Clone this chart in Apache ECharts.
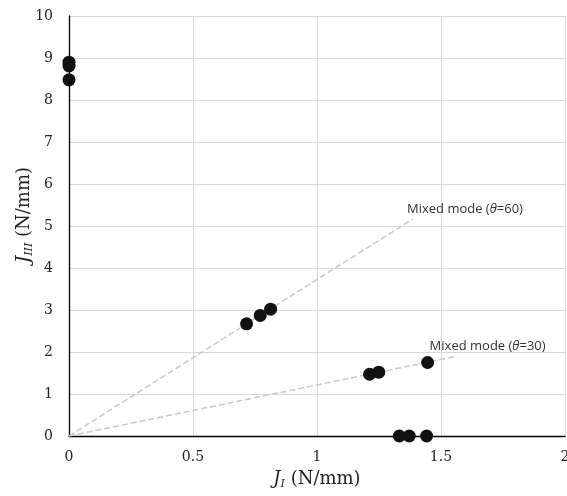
<!DOCTYPE html>
<html><head><meta charset="utf-8">
<script src="https://cdn.jsdelivr.net/npm/echarts@6/dist/echarts.min.js"></script>
<style>html,body{margin:0;padding:0;background:#fff}#c{width:567px;height:496px}</style>
</head><body><div id="c"></div>
<script>
// Mode III points (J_I, J_III)
var modeIII = [[0, 8.90], [0, 8.81], [0, 8.48]];
// Mixed mode theta=60
var mixed60 = [[0.716, 2.67], [0.771, 2.87], [0.813, 3.02]];
// Mixed mode theta=30
var mixed30 = [[1.212, 1.47], [1.249, 1.52], [1.446, 1.75]];
// Mode I points
var modeI = [[1.332, 0], [1.372, 0], [1.442, 0]];
// Trend lines
var trend60 = [[0, 0], [1.387, 5.17]];
var trend30 = [[0, 0], [1.563, 1.90]];
var xTicks = [0, 0.5, 1, 1.5, 2];
var yTicks = [0, 1, 2, 3, 4, 5, 6, 7, 8, 9, 10];

var serif = '"DejaVu Serif", "Liberation Serif", serif';
var sans = '"Open Sans", "Noto Sans", sans-serif';
var chart = echarts.init(document.getElementById('c'));
function trendSeries(pts, theta, dx) {
  return {
    type: 'line', data: pts,
    symbol: 'none',
    endLabel: {
      show: true, distance: 0, offset: [dx, -10],
      formatter: 'Mixed mode ({t|θ}=' + theta + ')',
      fontFamily: sans, fontSize: 13, color: '#333',
      rich: { t: { fontStyle: 'italic', fontFamily: sans, fontSize: 13, color: '#333' } }
    },
    lineStyle: { color: '#c8c8c8', width: 1.5, type: [6, 3] },
    silent: true, z: 1
  };
}
function pts(d) {
  return { type: 'scatter', data: d, symbolSize: 13, itemStyle: { color: '#111', opacity: 1 }, z: 5 };
}
chart.setOption({
  animation: false,
  grid: { left: 69, right: 2, top: 16, bottom: 60, containLabel: false, outerBoundsMode: 'none' },
  xAxis: {
    type: 'value', min: 0, max: 2, interval: 0.5,
    axisLine: { show: true, onZero: true, lineStyle: { color: '#000', width: 1.3 } },
    axisTick: { show: false },
    splitLine: { show: true, lineStyle: { color: '#d9d9d9', width: 1 } },
    axisLabel: { fontFamily: serif, fontSize: 14, color: '#222', margin: 14,
      formatter: function (v) { return String(v); } },
    name: '{i|J}{s|I} (N/mm)', nameLocation: 'middle', nameGap: 33,
    nameTextStyle: {
      fontFamily: serif, fontSize: 18, color: '#222',
      rich: { i: { fontFamily: serif, fontStyle: 'italic', fontSize: 18, color: '#222' },
              s: { fontFamily: serif, fontStyle: 'italic', fontSize: 11, color: '#222', padding: [10, 0, 0, 0] } }
    }
  },
  yAxis: {
    type: 'value', min: 0, max: 10, interval: 1,
    axisLine: { show: true, onZero: true, lineStyle: { color: '#000', width: 1.3 } },
    axisTick: { show: false },
    splitLine: { show: true, lineStyle: { color: '#d9d9d9', width: 1 } },
    axisLabel: { fontFamily: serif, fontSize: 14, color: '#222', margin: 16 },
    name: '{i|J}{s|III} (N/mm)', nameLocation: 'middle', nameGap: 34, nameRotate: 90,
    nameMoveOverlap: false,
    nameTextStyle: {
      fontFamily: serif, fontSize: 18, color: '#222', padding: [0, 0, 0, 22],
      rich: { i: { fontFamily: serif, fontStyle: 'italic', fontSize: 18, color: '#222' },
              s: { fontFamily: serif, fontStyle: 'italic', fontSize: 11, color: '#222', padding: [10, 0, 0, 0] } }
    }
  },
  series: [
    trendSeries(trend60, 60, -6),
    trendSeries(trend30, 30, -27),
    pts(modeIII), pts(mixed60), pts(mixed30), pts(modeI)
  ]
});
</script></body></html>
